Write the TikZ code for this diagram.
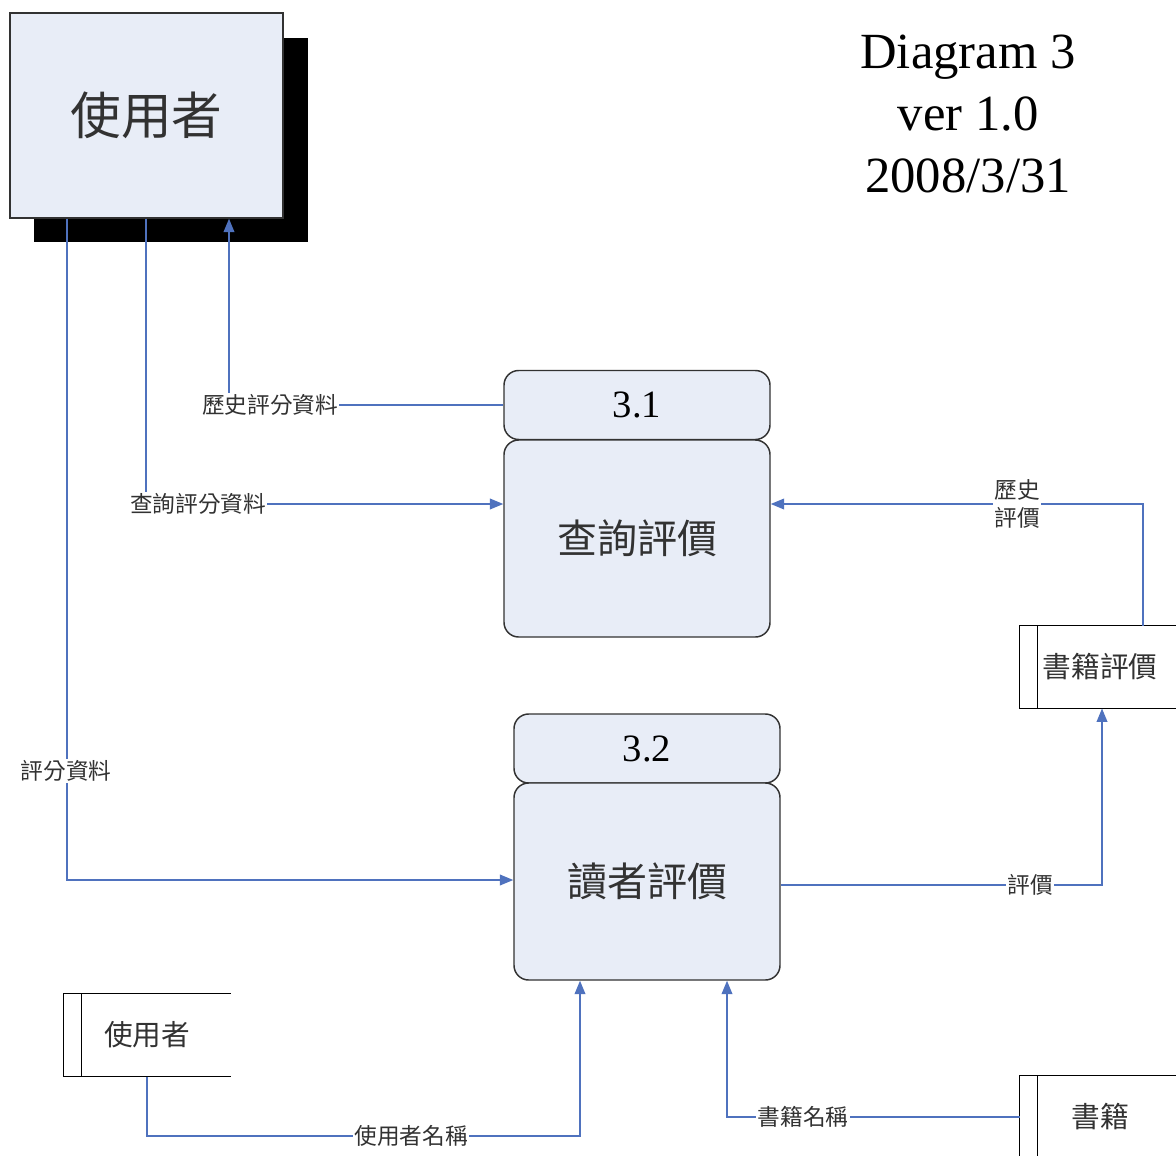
\documentclass[tikz,border=0pt]{standalone}
\usepackage{fontspec}
\setmainfont{Liberation Serif}
\newfontfamily\cjk{Noto Sans CJK TC}
\usetikzlibrary{arrows.meta}
\definecolor{flowblue}{RGB}{79,114,190}
\definecolor{boxfill}{RGB}{232,237,247}
\definecolor{inkgray}{RGB}{50,50,50}
\tikzset{every picture/.style={line width=0.75pt}}

\begin{document}
\begin{tikzpicture}[x=0.75pt,y=0.75pt,yscale=-1,xscale=1,
  entity/.style={draw=inkgray,fill=boxfill,line width=1.1pt,inner sep=0pt,minimum width=204.75pt,minimum height=153.75pt,text=inkgray,font=\cjk\fontsize{38}{40}\selectfont},
  shadowbox/.style={fill=black,inner sep=0pt,minimum width=205.5pt,minimum height=153pt},
  prochead/.style={draw=inkgray,fill=boxfill,line width=1.1pt,rounded corners=11pt,inner sep=0pt,minimum width=199.5pt,minimum height=51.75pt,text=black,font=\fontsize{29}{30}\selectfont},
  procbody/.style={draw=inkgray,fill=boxfill,line width=1.1pt,rounded corners=11pt,inner sep=0pt,minimum width=199.5pt,minimum height=147.75pt,text=inkgray,font=\cjk\fontsize{30}{32}\selectfont},
  store/.style={inner sep=0pt,minimum width=120pt,minimum height=61.5pt,text=inkgray,font=\cjk\fontsize{21.5}{24}\selectfont},
  storeline/.style={draw=black,line width=1.1pt},
  flow/.style={draw=flowblue,line width=1.1pt,-{Triangle[length=10pt,width=8pt]}},
  lbl/.style={fill=white,inner sep=1pt,text=inkgray,font=\cjk\fontsize{17}{20}\selectfont},
  title/.style={align=center,text=black,font=\fontsize{38}{46.5}\selectfont}]
\useasboundingbox (0,0) rectangle (1176,1155);

% External entity
\node[shadowbox] (usershade) at (171,140) {};
\node[entity] (user) at (146.5,115.5) {使用者};

% Title
\node[title] (diag) at (968,114) {Diagram 3\\ver 1.0\\2008/3/31};

% Process 3.1
\node[prochead] (proc31h) at (637,405) {3.1};
\node[procbody] (proc31) at (637,538.5) {查詢評價};
% Process 3.2
\node[prochead] (proc32h) at (647,748.5) {3.2};
\node[procbody] (proc32) at (647,881.5) {讀者評價};

% Data stores
\node[store] (bookrate) at (1100,667) {書籍評價};
\draw[storeline] (bookrate.north east) -- (bookrate.north west) -- (bookrate.south west) -- (bookrate.south east);
\draw[storeline] ([xshift=13.5pt]bookrate.north west) -- ([xshift=13.5pt]bookrate.south west);
\node[store,minimum width=124.5pt] (userstore) at (147,1035) {使用者};
\draw[storeline] (userstore.north east) -- (userstore.north west) -- (userstore.south west) -- (userstore.south east);
\draw[storeline] ([xshift=13.5pt]userstore.north west) -- ([xshift=13.5pt]userstore.south west);
\node[store] (bookstore) at (1100,1117) {書籍};
\draw[storeline] (bookstore.north east) -- (bookstore.north west) -- (bookstore.south west) -- (bookstore.south east);
\draw[storeline] ([xshift=13.5pt]bookstore.north west) -- ([xshift=13.5pt]bookstore.south west);

% Connection
\coordinate (c1) at (229,405);
\draw[flow] (proc31h.west) -- (c1) -- (c1 |- user.south);
% Connection
\coordinate (c2) at (146,504);
\draw[flow] (c2 |- user.south) -- (c2) -- (c2 -| proc31.west);
% Connection
\coordinate (c3) at (67,880);
\draw[flow] (c3 |- user.south) -- (c3) -- (c3 -| proc32.west);
% Connection
\coordinate (c4) at (1143,504);
\draw[flow] (c4 |- bookrate.north) -- (c4) -- (c4 -| proc31.east);
% Connection
\coordinate (c5) at (1102,885);
\draw[flow] (c5 -| proc32.east) -- (c5) -- (c5 |- bookrate.south);
% Connection
\coordinate (c6) at (580,1136);
\draw[flow] (userstore.south) |- (c6) -- (c6 |- proc32.south);
% Connection
\coordinate (c7) at (727,1117);
\draw[flow] (bookstore.west) -- (c7) -- (c7 |- proc32.south);

% Text Node
\node[lbl] (l1) at (270,405) {歷史評分資料};
\node[lbl] (l2) at (198,504) {查詢評分資料};
\node[lbl] (l3) at (66,771) {評分資料};
\node[lbl,align=center,font=\cjk\fontsize{17}{20.5}\selectfont] (l4) at (1017,504) {歷史\\評價};
\node[lbl] (l5) at (1030,885) {評價};
\node[lbl] (l6) at (411,1136) {使用者名稱};
\node[lbl] (l7) at (803,1117) {書籍名稱};

\end{tikzpicture}
\end{document}
